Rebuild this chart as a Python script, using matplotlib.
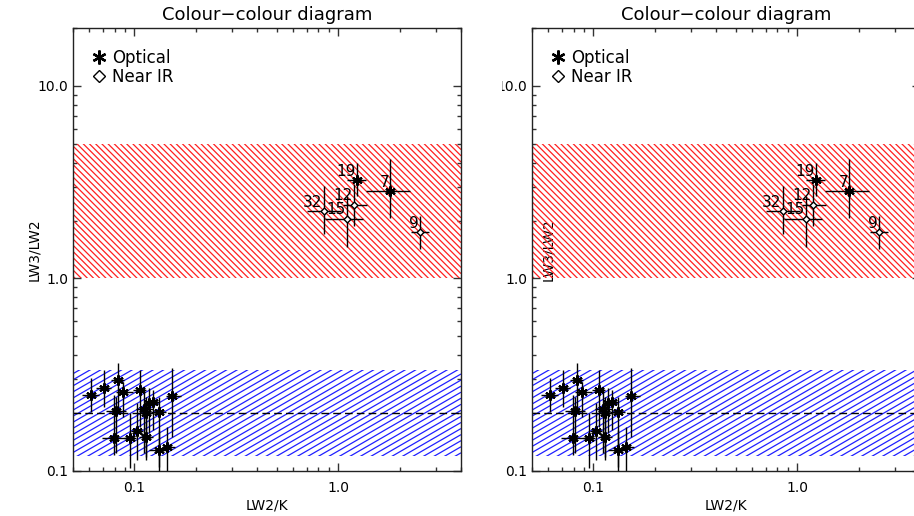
import numpy as np
import matplotlib
matplotlib.use('Agg')
from matplotlib import pyplot
from matplotlib.collections import LineCollection
from matplotlib.lines import Line2D
from matplotlib.patches import Rectangle

# labelled sources (upper group)
up_ids = ['19', '7', '12', '32', '15', '9']
up_kind = ['Optical', 'Optical', 'Near IR', 'Near IR', 'Near IR', 'Near IR']
up_x = [1.24, 1.80, 1.20, 0.85, 1.10, 2.53]
up_x_lo = [1.11, 1.37, 1.06, 0.70, 0.86, 2.28]
up_x_hi = [1.37, 2.24, 1.39, 1.03, 1.32, 2.78]
up_y = [3.25, 2.83, 2.42, 2.24, 2.04, 1.74]
up_y_lo = [2.69, 2.05, 1.88, 1.71, 1.45, 1.43]
up_y_hi = [4.00, 4.19, 3.10, 3.03, 2.69, 2.10]

# optical sources (lower group)
lo_x = [0.0612, 0.0706, 0.0828, 0.0883, 0.1067, 0.0813, 0.0797, 0.0952, 0.1026,
        0.1143, 0.112, 0.1186, 0.123, 0.1143, 0.1318, 0.1328, 0.145, 0.1534]
lo_x_lo = [0.0554, 0.0648, 0.0768, 0.0813, 0.098, 0.0726, 0.0696, 0.0893, 0.0963,
           0.1058, 0.1019, 0.112, 0.1143, 0.105, 0.1208, 0.1186, 0.1374, 0.1432]
lo_x_hi = [0.0673, 0.0768, 0.0893, 0.098, 0.1146, 0.091, 0.0924, 0.1023, 0.1099,
           0.123, 0.123, 0.1279, 0.1328, 0.125, 0.1432, 0.1432, 0.1574, 0.1697]
lo_y = [0.248, 0.271, 0.296, 0.257, 0.263, 0.205, 0.149, 0.149, 0.161,
        0.150, 0.209, 0.226, 0.229, 0.199, 0.203, 0.1285, 0.1327, 0.2455]
lo_y_lo = [0.202, 0.215, 0.200, 0.190, 0.169, 0.124, 0.121, 0.1037, 0.114,
           0.114, 0.124, 0.158, 0.163, 0.118, 0.105, 0.095, 0.095, 0.150]
lo_y_hi = [0.303, 0.334, 0.363, 0.289, 0.334, 0.242, 0.248, 0.200, 0.225,
           0.212, 0.270, 0.270, 0.263, 0.242, 0.242, 0.163, 0.169, 0.342]

red_band = (1.0, 5.0)
blue_band = (0.12, 0.333)
ref_line = 0.2

x_ticks = [0.1, 1.0]
y_ticks = [0.1, 1.0, 10.0]

W_PX, H_PX = 388, 443
ASTER = (6, 2, 0)


def hatch(ax, band, color, angle, spacing):
    span = ax.axhspan(band[0], band[1], facecolor='none', edgecolor='none')
    t = np.tan(np.radians(angle))
    segs = []
    step = spacing * abs(t)
    for c in np.arange(-W_PX * abs(t) - step, H_PX + W_PX * abs(t) + step, step):
        segs.append([(0, c / H_PX), (1, (c + t * W_PX) / H_PX)])
    lc = LineCollection(segs, colors=color, linewidths=0.9, transform=ax.transAxes)
    ax.add_collection(lc)
    lc.set_clip_path(span)


def draw_panel(ax):
    ax.set_xscale('log')
    ax.set_yscale('log')
    ax.set_xlim(0.05, 4.0)
    ax.set_ylim(0.1, 20.0)

    hatch(ax, red_band, '#ff2020', -45, 6.2)
    hatch(ax, blue_band, '#2020ff', 30, 10.5)
    ax.axhline(ref_line, color='black', lw=1, ls=(0, (5.5, 3)))

    x = np.array(lo_x)
    y = np.array(lo_y)
    ax.errorbar(x, y,
                xerr=[x - np.array(lo_x_lo), np.array(lo_x_hi) - x],
                yerr=[y - np.array(lo_y_lo), np.array(lo_y_hi) - y],
                fmt='none', ecolor='black', elinewidth=1, capsize=0, zorder=3)
    ax.plot(x, y, ls='none', marker=ASTER, ms=7.5, mew=1.5, color='black', zorder=4)

    for i in range(len(up_ids)):
        ax.errorbar([up_x[i]], [up_y[i]],
                    xerr=[[up_x[i] - up_x_lo[i]], [up_x_hi[i] - up_x[i]]],
                    yerr=[[up_y[i] - up_y_lo[i]], [up_y_hi[i] - up_y[i]]],
                    fmt='none', ecolor='black', elinewidth=1, capsize=0, zorder=3)
        if up_kind[i] == 'Optical':
            ax.plot(up_x[i], up_y[i], ls='none', marker=ASTER, ms=7.5, mew=1.5,
                    color='black', zorder=4)
        else:
            ax.plot(up_x[i], up_y[i], ls='none', marker='D', ms=3.5, mew=1,
                    mfc='white', mec='black', zorder=4)
        ax.annotate(up_ids[i], (up_x[i], up_y[i]), xytext=(-1, 1),
                    textcoords='offset points', ha='right', va='bottom',
                    fontsize=11, zorder=5)

    ax.set_xticks(x_ticks)
    ax.set_xticklabels(['0.1', '1.0'])
    ax.set_yticks(y_ticks)
    ax.set_yticklabels(['0.1', '1.0', '10.0'])
    ax.tick_params(which='both', direction='in', top=True, right=True,
                   labelsize=10, color='#333333')
    ax.tick_params(which='major', length=6, width=1)
    ax.tick_params(which='minor', length=3, width=1)
    ax.tick_params(axis='x', which='major', pad=7)
    for s in ax.spines.values():
        s.set_linewidth(1)
        s.set_color('#222222')

    ax.set_title('Colour\u2212colour diagram', fontsize=13, pad=6)
    ax.set_xlabel('LW2/K', fontsize=10)
    ax.xaxis.set_label_coords(0.5, -0.063)
    ax.set_ylabel('LW3/LW2', fontsize=10)

    handles = [Line2D([], [], ls='none', marker=ASTER, ms=10, mew=1.7, color='black'),
               Line2D([], [], ls='none', marker='D', ms=6.5, mew=1, mfc='white', mec='black')]
    ax.legend(handles, ['Optical', 'Near IR'], loc='upper left',
              bbox_to_anchor=(0.05, 0.952), frameon=False, fontsize=12,
              handlelength=0.8, handletextpad=0.4, labelspacing=0.05,
              borderpad=0, borderaxespad=0)


fig = pyplot.figure(figsize=(9.14, 5.16), dpi=100)
ax1 = fig.add_axes([73 / 914, 45 / 516, W_PX / 914, H_PX / 516])
ax2 = fig.add_axes([532 / 914, 45 / 516, W_PX / 914, H_PX / 516])

draw_panel(ax1)
draw_panel(ax2)
ax1.yaxis.set_label_coords(-0.083, 0.5)
ax2.yaxis.set_label_coords(0.059, 0.5)

# the right-hand copy is cut on its left side
fig.add_artist(Rectangle((463 / 914, 0), 39 / 914, 1, transform=fig.transFigure,
                         facecolor='white', edgecolor='none', zorder=10))

fig.savefig('out.png', dpi=100)
